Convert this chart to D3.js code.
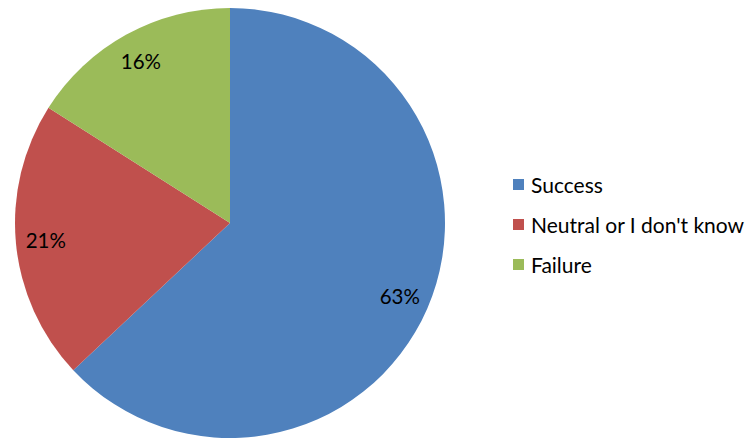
<!DOCTYPE html>
<html>
<head>
<meta charset="utf-8">
<script src="https://cdn.jsdelivr.net/npm/d3@7"></script>
<style>
  html, body { margin: 0; padding: 0; background: #fff; overflow: hidden; }
  svg text { font-family: Lato, "Open Sans", sans-serif; fill: #000; }
</style>
</head>
<body>
<svg id="chart" width="751" height="443"></svg>
<script>
// Survey outcome shares (percent)
const categories = ["Success", "Neutral or I don't know", "Failure"];
const values = [63, 21, 16];
const colors = ["#4F81BD", "#C0504D", "#9BBB59"];

const svg = d3.select("#chart");
const cx = 230, cy = 223, radius = 215;

const pie = d3.pie().sort(null).value(d => d.value);
const arcs = pie(categories.map((c, i) => ({ name: c, value: values[i], color: colors[i] })));

const arc = d3.arc().innerRadius(0).outerRadius(radius);
const labelArc = d3.arc().innerRadius(185).outerRadius(185);

const g = svg.append("g").attr("transform", `translate(${cx},${cy})`);

g.selectAll("path")
  .data(arcs)
  .join("path")
  .attr("d", arc)
  .attr("fill", d => d.data.color);

g.selectAll("text.pct")
  .data(arcs)
  .join("text")
  .attr("class", "pct")
  .attr("transform", d => `translate(${labelArc.centroid(d)})`)
  .attr("text-anchor", "middle")
  .attr("dominant-baseline", "central")
  .style("font-size", "20.5px")
  .text(d => d.data.value + "%");

// Legend
const legend = svg.append("g").attr("transform", "translate(513,184)");
const item = legend.selectAll("g")
  .data(arcs)
  .join("g")
  .attr("transform", (d, i) => `translate(0,${i * 40})`);

item.append("rect")
  .attr("x", 0).attr("y", -5)
  .attr("width", 11).attr("height", 11)
  .attr("fill", d => d.data.color);

item.append("text")
  .attr("x", 18)
  .attr("dominant-baseline", "central")
  .style("font-size", "21px")
  .text(d => d.data.name);
</script>
</body>
</html>
